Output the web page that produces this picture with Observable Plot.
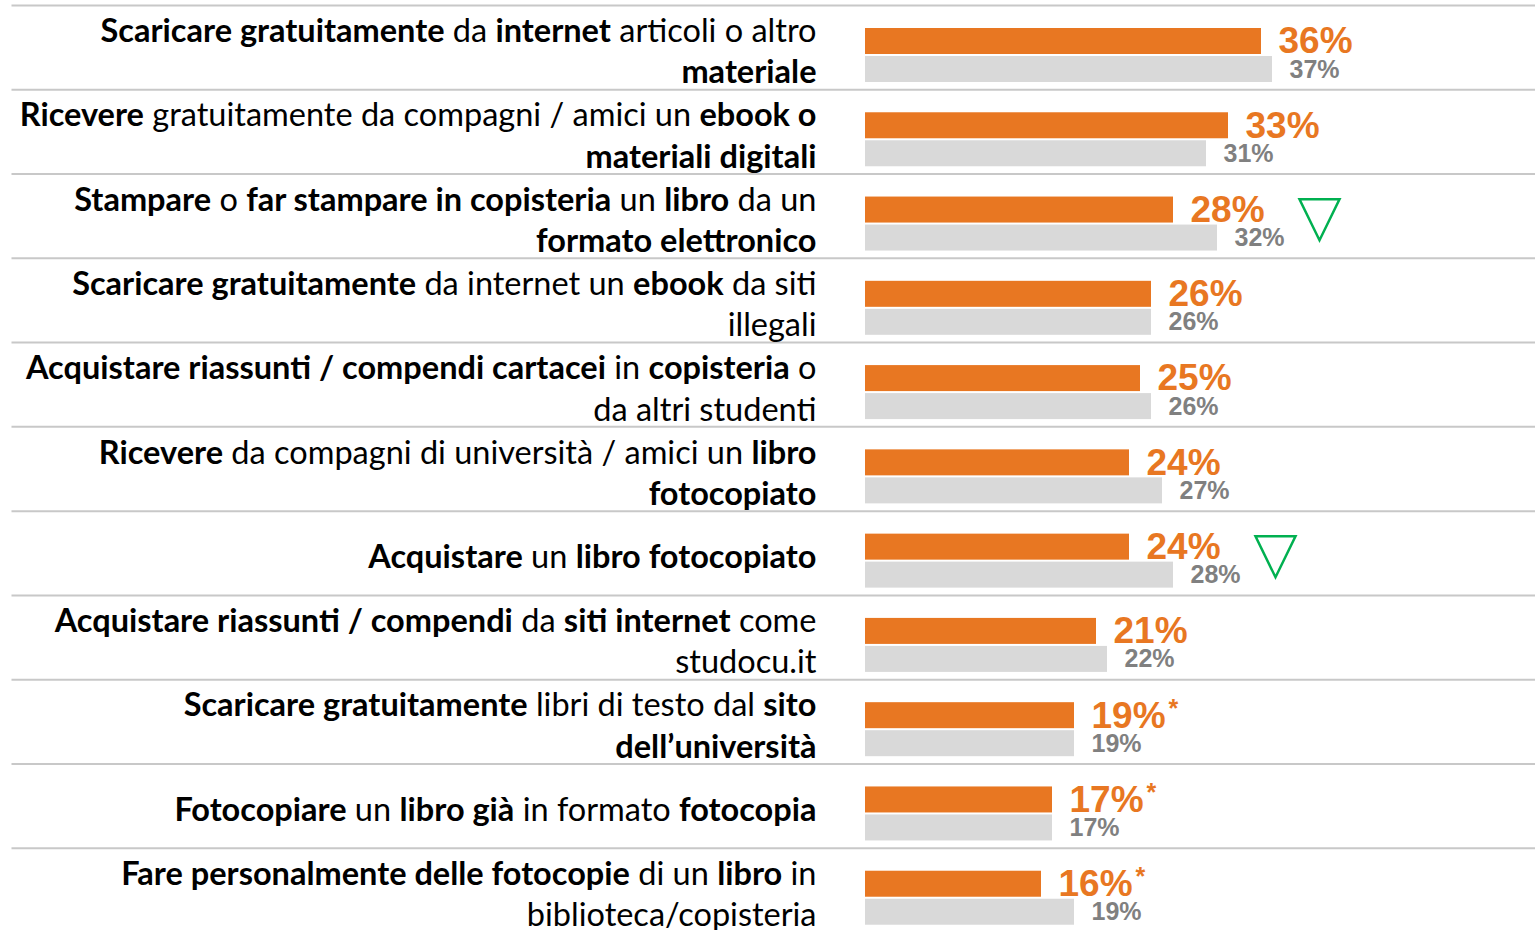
<!DOCTYPE html>
<html><head><meta charset="utf-8">
<script src="https://cdn.jsdelivr.net/npm/d3@7"></script>
<script src="https://cdn.jsdelivr.net/npm/@observablehq/plot@0.6"></script>
<style>
html,body{margin:0;padding:0;background:#fff;overflow:hidden;}
svg text{white-space:pre;}
</style></head><body><div id="chart"></div>
<script>
// ---- data ----
const labels = [
  "**Scaricare gratuitamente** da **internet** articoli o altro\n**materiale**",
  "**Ricevere** gratuitamente da compagni / amici un **ebook o**\n**materiali digitali**",
  "**Stampare** o **far stampare in copisteria** un **libro** da un\n**formato elettronico**",
  "**Scaricare gratuitamente** da internet un **ebook** da siti\nillegali",
  "**Acquistare riassunti / compendi cartacei** in **copisteria** o\nda altri studenti",
  "**Ricevere** da compagni di università / amici un **libro**\n**fotocopiato**",
  "**Acquistare** un **libro fotocopiato**",
  "**Acquistare riassunti / compendi** da **siti internet** come\nstudocu.it",
  "**Scaricare gratuitamente** libri di testo dal **sito**\n**dell’università**",
  "**Fotocopiare** un **libro già** in formato **fotocopia**",
  "**Fare personalmente delle fotocopie** di un **libro** in\nbiblioteca/copisteria"
];
const current  = [36, 33, 28, 26, 25, 24, 24, 21, 19, 17, 16];
const previous = [37, 31, 32, 26, 26, 27, 28, 22, 19, 17, 19];
const starred  = [false, false, false, false, false, false, false, false, true, true, true];
const flagged  = [false, false, true, false, false, false, true, false, false, false, false];
const seriesNames = ["cur", "prev"];

const rows = labels.map((l, i) => ({
  cat: i, label: l, plain: l.replace(/\*\*/g, ""),
  cur: current[i], prev: previous[i], star: starred[i], flag: flagged[i]
}));
const bars = rows.flatMap(r => [
  {cat: r.cat, series: "cur", value: r.cur},
  {cat: r.cat, series: "prev", value: r.prev}
]);

const downTriangle = {
  draw(ctx) { ctx.moveTo(-20, -20); ctx.lineTo(20, -20); ctx.lineTo(0, 21); ctx.closePath(); }
};

const chart = Plot.plot({
  width: 1535, height: 930,
  marginLeft: 865, marginRight: 10, marginTop: 5, marginBottom: -2,
  x: {domain: [0, 60], axis: null},
  y: {domain: seriesNames, axis: null, insetTop: 22, insetBottom: 7, paddingInner: 0.07, paddingOuter: 0},
  fy: {domain: d3.range(labels.length), axis: null, padding: 0, round: false},
  color: {domain: seriesNames, range: ["#E87722", "#D9D9D9"]},
  style: {fontFamily: "Lato, 'Open Sans', sans-serif", background: "white", overflow: "visible"},
  marks: [
    Plot.frame({anchor: "top", stroke: "#C8C8C8", strokeWidth: 2, insetLeft: -853, insetRight: -10}),
    Plot.barX(bars, {fy: "cat", y: "series", x: "value", fill: "series"}),
    Plot.text(rows, {fy: "cat", x: "cur", y: () => "cur", text: d => d.cur + "%" + (d.star ? "*" : ""),
      dx: 17, textAnchor: "start", fill: "#E87722", fontSize: 37, fontWeight: "bold",
      fontFamily: "'Liberation Sans', Arial, sans-serif"}),
    Plot.text(rows, {fy: "cat", x: "prev", y: () => "prev", text: d => d.prev + "%",
      dx: 17, textAnchor: "start", fill: "#808080", fontSize: 25, fontWeight: "bold",
      fontFamily: "'Liberation Sans', Arial, sans-serif"}),
    Plot.dot(rows.filter(d => d.flag), {fy: "cat", x: d => Math.max(d.cur, d.prev), dx: 102, dy: 3,
      symbol: downTriangle, stroke: "#00B050", strokeWidth: 2.5, fill: "none"}),
    Plot.text(rows, {fy: "cat", text: "plain", frameAnchor: "left", dx: -49, dy: 2, textAnchor: "end",
      lineHeight: 1.27, fontSize: 32.5, fill: "#000"})
  ]
});
document.getElementById("chart").appendChild(chart);

const NS = "http://www.w3.org/2000/svg";
function fillMarkup(el, line) {
  el.textContent = "";
  line.split("**").forEach((seg, j) => {
    if (!seg) return;
    const s = document.createElementNS(NS, "tspan");
    s.textContent = seg;
    if (j % 2 === 1) s.setAttribute("font-weight", "bold");
    el.appendChild(s);
  });
}
const byText = new Map(rows.map(r => [r.plain.replace(/\n/g, ""), r]));
chart.querySelectorAll("text").forEach(el => {
  const t = el.textContent;
  const r = byText.get(t);
  if (r) {
    const lines = r.label.split("\n");
    const tspans = el.querySelectorAll(":scope > tspan");
    if (tspans.length) tspans.forEach((ts, k) => fillMarkup(ts, lines[k] || ""));
    else fillMarkup(el, lines[0]);
  } else if (/^\d+%\*$/.test(t)) {
    el.textContent = t.slice(0, -1);
    const s = document.createElementNS(NS, "tspan");
    s.textContent = "*";
    s.setAttribute("font-size", 25);
    s.setAttribute("dx", 3);
    s.setAttribute("dy", -11);
    el.appendChild(s);
  }
});
</script>
</body></html>
